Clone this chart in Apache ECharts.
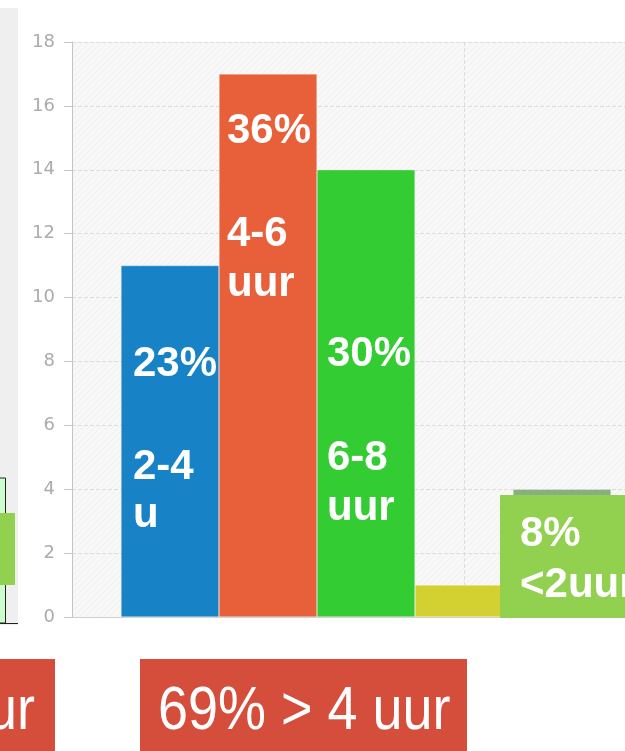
<!DOCTYPE html>
<html>
<head>
<meta charset="utf-8">
<script src="https://cdn.jsdelivr.net/npm/echarts@6/dist/echarts.min.js"></script>
<style>
  html, body { margin: 0; padding: 0; background: #fff; overflow: hidden; }
  #chart { width: 1000px; height: 751px; }
</style>
</head>
<body>
<div id="chart"></div>
<script>
// uren per dag (positie op de x-as, aantal)
const positions = [1, 2, 3, 4, 5];
const counts = [11, 17, 14, 1, 4];
const barColors = ['#1783c6', '#e8603a', '#33cc33', '#d3d132', '#88b07f'];
const yTicks = { min: 0, max: 18, interval: 2 };

// tekstvakjes over de grafiek heen
const pctLabels = ['23%', '36%', '30%'];
const rangeLabels = [['2-4', 'u'], ['4-6', 'uur'], ['6-8', 'uur']];
const smallLabel = ['8%', '<2uur'];
const summaryLabels = ['31% < 4 uur', '69% > 4 uur'];

// gearceerde achtergrond van het plotvlak
function hatch() {
    const c = document.createElement('canvas');
    c.width = 6; c.height = 6;
    const ctx = c.getContext('2d');
    ctx.fillStyle = '#f8f8f8';
    ctx.fillRect(0, 0, 6, 6);
    ctx.strokeStyle = '#efefef';
    ctx.lineWidth = 1;
    ctx.beginPath();
    ctx.moveTo(0, 6); ctx.lineTo(6, 0);
    ctx.stroke();
    return c;
}

const bold = 'bold 42px "Liberation Sans", Arial, sans-serif';
const big = '62px "Liberation Sans", Arial, sans-serif';

function label(text, x, y, font) {
    return {
        type: 'text', x: x, y: y, z: 100,
        style: { text: text, fill: '#fff', font: font || bold, textVerticalAlign: 'middle' }
    };
}

let myChart = echarts.init(document.getElementById('chart'));

let option = {
    animation: false,
    grid: {
        left: 72, top: 42, width: 784, height: 575,
        show: true,
        borderWidth: 0,
        backgroundColor: { image: hatch(), repeat: 'repeat' }
    },
    xAxis: {
        type: 'value',
        min: 0, max: 8, interval: 4,
        axisLabel: { show: false },
        axisTick: { show: false },
        axisLine: { show: true, lineStyle: { color: '#d0d0d0' } },
        splitLine: { show: true, lineStyle: { color: '#dddddd', type: 'dashed' } }
    },
    yAxis: {
        type: 'value',
        min: yTicks.min, max: yTicks.max, interval: yTicks.interval,
        axisLabel: { color: '#ababab', fontSize: 18, fontFamily: 'DejaVu Sans', margin: 17 },
        axisTick: { show: true, length: 8, lineStyle: { color: '#c4c4c4' } },
        axisLine: { show: true, lineStyle: { color: '#c4c4c4' } },
        splitLine: { show: true, lineStyle: { color: '#dddddd', type: 'dashed' } }
    },
    series: [{
        type: 'bar',
        barCategoryGap: '0%',
        data: positions.map((p, i) => ({
            value: [p, counts[i]],
            itemStyle: { color: barColors[i], borderColor: 'rgba(255,255,255,0.6)', borderWidth: 0.5 }
        }))
    }],
    graphic: [
        // grijze strook links met het afgesneden vakje
        { type: 'rect', z: 90, shape: { x: 0, y: 8, width: 18, height: 617 }, style: { fill: '#efefef' } },
        { type: 'rect', z: 91, shape: { x: -2, y: 478, width: 7.5, height: 145 }, style: { fill: '#ccffcc', stroke: '#222', lineWidth: 1 } },
        { type: 'line', z: 92, shape: { x1: 0, y1: 623.5, x2: 18, y2: 623.5 }, style: { stroke: '#222', lineWidth: 1 } },
        { type: 'rect', z: 93, shape: { x: 0, y: 513, width: 15, height: 72 }, style: { fill: '#92d050' } },

        // teksten in de staven
        label(pctLabels[0], 133, 364),
        label(rangeLabels[0][0], 133, 467),
        label(rangeLabels[0][1], 133, 515),
        label(pctLabels[1], 227, 131),
        label(rangeLabels[1][0], 227, 234),
        label(rangeLabels[1][1], 227, 284),
        label(pctLabels[2], 327, 354),
        label(rangeLabels[2][0], 327, 458),
        label(rangeLabels[2][1], 327, 508),

        // groen vak rechtsonder
        { type: 'rect', z: 95, shape: { x: 500, y: 495, width: 160, height: 123 }, style: { fill: '#92d050' } },
        label(smallLabel[0], 520, 534),
        label(smallLabel[1], 520, 585),

        // rode vakken onderaan
        { type: 'rect', z: 95, shape: { x: -10, y: 659, width: 65, height: 100 }, style: { fill: '#d54e3b' } },
        { type: 'rect', z: 95, shape: { x: 140, y: 659, width: 327, height: 100 }, style: { fill: '#d54e3b' } },
        {
            type: 'text', x: 35, y: 712, z: 100, scaleX: 0.87,
            style: { text: summaryLabels[0], fill: '#fff', font: big, textAlign: 'right', textVerticalAlign: 'middle' }
        },
        {
            type: 'text', x: 158, y: 712, z: 100, scaleX: 0.87,
            style: { text: summaryLabels[1], fill: '#fff', font: big, textVerticalAlign: 'middle' }
        }
    ]
};

myChart.setOption(option, true);
window.addEventListener('resize', () => {
    myChart.resize();
})
</script>
</body>
</html>
